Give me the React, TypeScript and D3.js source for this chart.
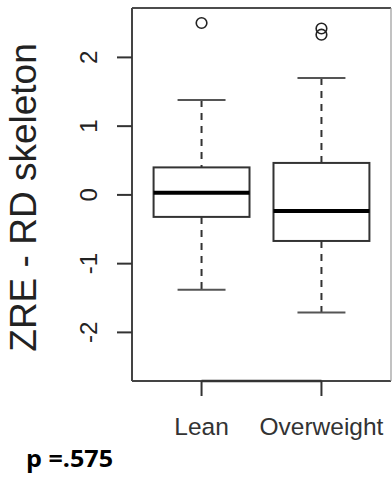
import React from "react";
import * as d3 from "d3";

// Group labels and five-number summaries per group
const categories = ["Lean", "Overweight"];
const lowerWhisker = [-1.38, -1.71];
const q1 = [-0.32, -0.67];
const medians = [0.03, -0.235];
const q3 = [0.4, 0.465];
const upperWhisker = [1.38, 1.7];
const outliers = [[2.5], [2.42, 2.33]];
const yTicks = [-2, -1, 0, 1, 2];

const W = 392;
const H = 478;
const plot = { left: 132, right: 391, top: 8, bottom: 381 };

export default function App() {
  // R-style axis: groups at 1..n, range padded by 4%
  const x = d3.scaleLinear().domain([0.42, 2.58]).range([plot.left, plot.right]);
  const y = d3.scaleLinear().domain([-2, 2]).range([332.4, 57.4]);
  const boxHalf = x(1.4) - x(1); // boxwex 0.8
  const capHalf = boxHalf / 2;
  const font = "'Liberation Sans', Arial, Helvetica, sans-serif";
  const ink = "#222";

  return (
    <svg width={W} height={H} style={{ position: "absolute", left: 0, top: 0, background: "#fff" }}>
      <rect x={0} y={0} width={W} height={H} fill="#fff" />

      {categories.map((c, i) => {
        const cx = x(i + 1);
        return (
          <g key={c}>
            {/* whiskers */}
            <line x1={cx} x2={cx} y1={y(upperWhisker[i])} y2={y(q3[i])} stroke="#333" strokeWidth={2} strokeDasharray="7,6" />
            <line x1={cx} x2={cx} y1={y(q1[i])} y2={y(lowerWhisker[i])} stroke="#333" strokeWidth={2} strokeDasharray="7,6" />
            <line x1={cx - capHalf} x2={cx + capHalf} y1={y(upperWhisker[i])} y2={y(upperWhisker[i])} stroke="#555" strokeWidth={2} />
            <line x1={cx - capHalf} x2={cx + capHalf} y1={y(lowerWhisker[i])} y2={y(lowerWhisker[i])} stroke="#555" strokeWidth={2} />
            {/* box */}
            <rect x={cx - boxHalf} y={y(q3[i])} width={boxHalf * 2} height={y(q1[i]) - y(q3[i])} fill="#fff" stroke="#333" strokeWidth={2} />
            {/* median */}
            <line x1={cx - boxHalf} x2={cx + boxHalf} y1={y(medians[i])} y2={y(medians[i])} stroke="#000" strokeWidth={4} />
            {/* outliers */}
            {outliers[i].map((v, j) => (
              <circle key={j} cx={cx} cy={y(v)} r={5.3} fill="none" stroke="#222" strokeWidth={1.6} />
            ))}
          </g>
        );
      })}

      {/* plot frame */}
      <line x1={plot.left} x2={plot.right} y1={plot.top} y2={plot.top} stroke="#111" strokeWidth={1.6} />
      <line x1={plot.left} x2={plot.left} y1={plot.top} y2={plot.bottom} stroke="#444" strokeWidth={2} />
      <line x1={plot.left} x2={plot.right} y1={plot.bottom} y2={plot.bottom} stroke="#444" strokeWidth={2} />
      <line x1={plot.right} x2={plot.right} y1={plot.top} y2={plot.bottom} stroke="#999" strokeWidth={1.2} />

      {/* y axis ticks and labels */}
      {yTicks.map((t) => (
        <g key={t}>
          <line x1={plot.left - 15} x2={plot.left} y1={y(t)} y2={y(t)} stroke="#333" strokeWidth={2} />
          <text
            transform={`translate(88,${y(t)}) rotate(-90)`}
            textAnchor="middle"
            dy="0.36em"
            fontFamily={font}
            fontSize={24}
            fill={ink}
          >
            {String(t)}
          </text>
        </g>
      ))}

      {/* x axis ticks and labels */}
      <line x1={x(1)} x2={x(2)} y1={plot.bottom} y2={plot.bottom} stroke="#333" strokeWidth={2.4} />
      {categories.map((c, i) => (
        <g key={c}>
          <line x1={x(i + 1)} x2={x(i + 1)} y1={plot.bottom} y2={plot.bottom + 15} stroke="#333" strokeWidth={2} />
          <text x={x(i + 1)} y={435} textAnchor="middle" fontFamily={font} fontSize={24.5} fill="#333">
            {c}
          </text>
        </g>
      ))}

      {/* y axis title */}
      <text
        transform={`translate(36,${(plot.top + plot.bottom) / 2 + 3}) rotate(-90)`}
        textAnchor="middle"
        fontFamily={font}
        fontSize={37}
        fill={ink}
      >
        ZRE - RD skeleton
      </text>

      {/* test result */}
      <text
        x={26}
        y={467}
        fontFamily="'Open Sans', sans-serif"
        fontWeight={700}
        fontSize={24}
        textLength={87}
        lengthAdjust="spacingAndGlyphs"
        fill="#000"
      >
        p =.575
      </text>
    </svg>
  );
}
